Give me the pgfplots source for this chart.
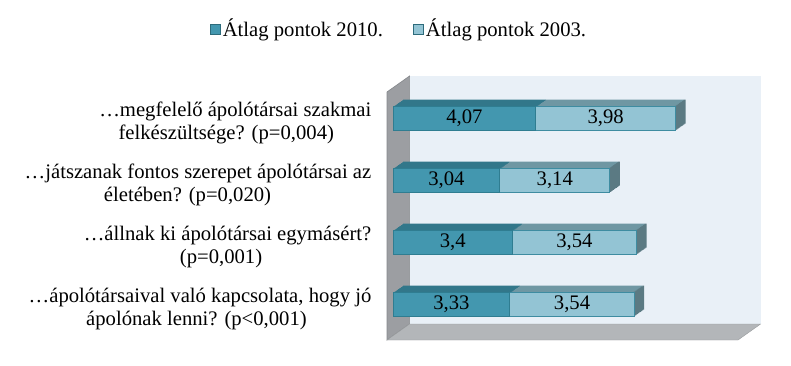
\documentclass[border=0pt]{standalone}
\usepackage{pgfplots}
\pgfplotsset{compat=1.18}
\usepackage{pgfplotstable}
\usepackage{fontspec}
\setmainfont{Liberation Serif}
\newfontfamily\timesfont{Liberation Serif}
\newlength\PX \setlength\PX{0.75pt}
\definecolor{wallback}{HTML}{E9F0F7}
\definecolor{wallside}{HTML}{9C9EA2}
\definecolor{wallsideedge}{HTML}{86898D}
\definecolor{floorc}{HTML}{B3B6B9}
\definecolor{darkfront}{HTML}{4397AF}
\definecolor{lightfront}{HTML}{93C4D4}
\definecolor{darktop}{HTML}{32778A}
\definecolor{lighttop}{HTML}{6F97A3}
\definecolor{sidec}{HTML}{5B7A83}
\definecolor{darkedge}{HTML}{2F7D91}
\definecolor{lightedge}{HTML}{3E8CA1}
\definecolor{legedge}{HTML}{2D6B7B}

\pgfplotstableread{
cat v2010 v2003 l2010 l2003
1 4.07 3.98 4,07 3,98
2 3.04 3.14 3,04 3,14
3 3.4 3.54 3,4 3,54
4 3.33 3.54 3,33 3,54
}\chartdata

\newcommand\lfont{\timesfont\fontsize{15.5}{17}\selectfont}

\pgfplotsset{
  base/.style={scale only axis, width=351\PX, height=248\PX, xmin=0, xmax=10,
    ymin=0.5, ymax=4.5, y dir=reverse, anchor=south west, clip=false},
  bars/.style={base, hide axis, xbar stacked, bar width=24\PX},
}

\begin{document}
\begin{tikzpicture}
\useasboundingbox (0,0) rectangle (791\PX,366\PX);
% walls, category labels, legend
\begin{axis}[base, at={(387\PX,26\PX)},
  axis line style={draw=none}, major tick length=0pt,
  xtick=\empty, ytick={1,2,3,4},
  yticklabels={
    {…megfelelő ápolótársai szakmai\\felkészültsége? (p=0,004)\hspace*{18\PX}},
    {…játszanak fontos szerepet ápolótársai az\\életében? (p=0,020)\hspace*{21\PX}},
    {…állnak ki ápolótársai egymásért?\\(p=0,001)\hspace*{13\PX}},
    {…ápolótársaival való kapcsolata, hogy jó\\ápolónak lenni? (p<0,001)\hspace*{7\PX}}},
  yticklabel style={align=center, font=\lfont, xshift=-11\PX},
  legend columns=2,
  legend style={at={(0.034,1.254)}, anchor=center, draw=none, fill=none,
    font=\lfont, nodes={inner sep=2\PX},
    /tikz/every even column/.append style={column sep=28\PX}},
  legend image code/.code={\draw[#1] (0pt,-5\PX) rectangle (10\PX,5\PX);},
]
\fill[wallback] ([shift={(22.6\PX,16\PX)}]axis description cs:0,0) rectangle ([shift={(22.6\PX,16\PX)}]axis description cs:1,1);
\filldraw[fill=wallside, draw=wallsideedge, line width=0.5pt] (axis description cs:0,0) -- (axis description cs:0,1) -- ([shift={(22.6\PX,16\PX)}]axis description cs:0,1) -- ([shift={(22.6\PX,16\PX)}]axis description cs:0,0) -- cycle;
\filldraw[fill=floorc, draw=floorc!85!black, line width=0.3pt] (axis description cs:0,0) -- (axis description cs:1,0) -- ([shift={(22.6\PX,16\PX)}]axis description cs:1,0) -- ([shift={(22.6\PX,16\PX)}]axis description cs:0,0) -- cycle;
\addlegendimage{fill=darkfront, draw=legedge, line width=0.75pt}
\addlegendentry{Átlag pontok 2010.}
\addlegendimage{fill=lightfront, draw=legedge, line width=0.75pt}
\addlegendentry{Átlag pontok 2003.}
\end{axis}
% depth of the bars
\foreach \k in {10,9,...,1}{
\begin{axis}[bars, at={({(393+\k)*0.75pt},{(30.3+0.7*\k)*0.75pt})}]
\addplot[fill=darktop, draw=none] table[x=v2010,y=cat]{\chartdata};
\addplot[fill=lighttop, draw=none] table[x expr=\thisrow{v2003}-0.05,y=cat]{\chartdata};
\addplot[fill=sidec, draw=none] table[x expr=0.05,y=cat]{\chartdata};
\end{axis}
}
% front faces
\begin{axis}[bars, at={(393\PX,30.3\PX)}]
\addplot[fill=darkfront, draw=darkedge, line width=0.75pt] table[x=v2010,y=cat]{\chartdata};
\addplot[fill=lightfront, draw=lightedge, line width=0.75pt] table[x=v2003,y=cat]{\chartdata};
\end{axis}
% value labels
\begin{axis}[base, hide axis, at={(393\PX,30.3\PX)},
  nodes near coords, point meta=explicit symbolic, nodes near coords align=center,
  every node near coord/.append style={font=\lfont, anchor=center, text=black}]
\addplot[draw=none] table[x expr=\thisrow{v2010}/2, y=cat, meta=l2010]{\chartdata};
\addplot[draw=none] table[x expr=\thisrow{v2010}+\thisrow{v2003}/2, y=cat, meta=l2003]{\chartdata};
\end{axis}
\end{tikzpicture}
\end{document}
